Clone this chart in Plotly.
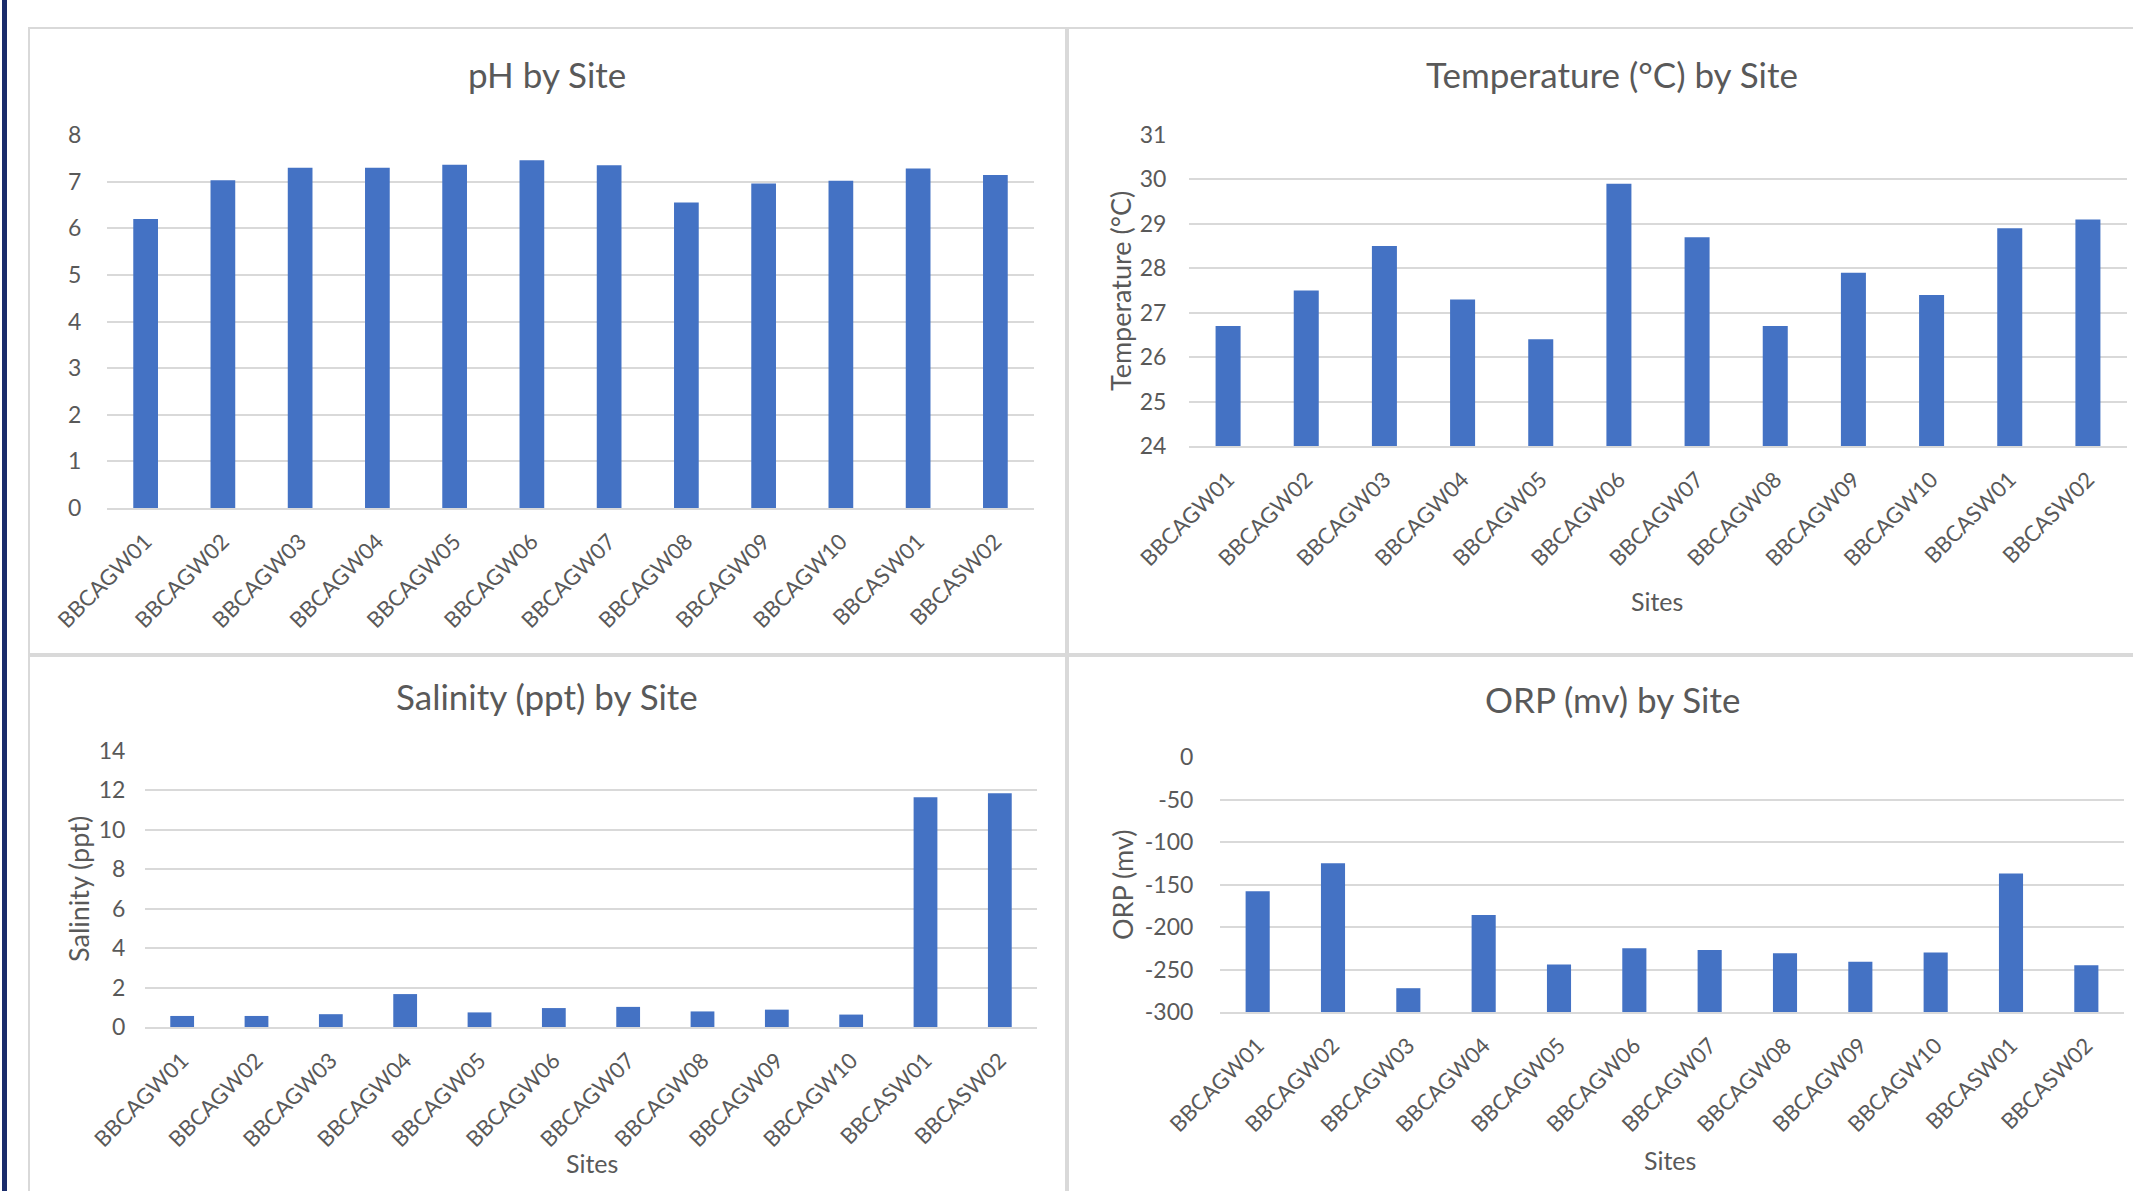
import plotly.graph_objects as go

# ---------------- data ----------------
sites = ["BBCAGW01", "BBCAGW02", "BBCAGW03", "BBCAGW04", "BBCAGW05", "BBCAGW06",
         "BBCAGW07", "BBCAGW08", "BBCAGW09", "BBCAGW10", "BBCASW01", "BBCASW02"]
ph_values = [6.2, 7.03, 7.3, 7.3, 7.36, 7.46, 7.35, 6.55, 6.96, 7.02, 7.28, 7.14]
temp_values = [26.7, 27.5, 28.5, 27.3, 26.4, 29.9, 28.7, 26.7, 27.9, 27.4, 28.9, 29.1]
salinity_values = [0.56, 0.56, 0.65, 1.67, 0.74, 0.96, 1.02, 0.79, 0.88, 0.63, 11.65, 11.86]
orp_values = [-158, -125, -272, -186, -244, -225, -227, -231, -241, -230, -137, -245]

ph_ticks = [0, 1, 2, 3, 4, 5, 6, 7, 8]
temp_ticks = [24, 25, 26, 27, 28, 29, 30, 31]
salinity_ticks = [0, 2, 4, 6, 8, 10, 12, 14]
orp_ticks = [-300, -250, -200, -150, -100, -50, 0]
orp_tick_labels = ["-300", "-250", "-200", "-150", "-100", "-50", "0"]

titles = ["pH by Site", "Temperature (°C) by Site", "Salinity (ppt) by Site", "ORP (mv) by Site"]
y_titles = [None, "Temperature (°C)", "Salinity (ppt)", "ORP (mv)"]
x_title = "Sites"

# ---------------- styling ----------------
W, H = 2133, 1191
BAR = "#4472C4"
TXT = "#595959"
GRID = "#d9d9d9"
FONT = "Lato, 'Open Sans', sans-serif"


def px(x):
    return x / W


def py(y):
    return 1 - y / H


fig = go.Figure()

panels = [
    # (values, ticks, tick labels, x-range px, y-range px (top, bottom), y label gap)
    (ph_values, ph_ticks, [str(t) for t in ph_ticks], (107, 1034), (135, 508), 20),
    (temp_values, temp_ticks, [str(t) for t in temp_ticks], (1189, 2127), (135, 446), 17),
    (salinity_values, salinity_ticks, [str(t) for t in salinity_ticks], (145, 1037), (751, 1027), 14),
    (orp_values, orp_ticks, orp_tick_labels, (1220, 2124), (757, 1012), 21),
]

for i, (vals, ticks, labels, (x0, x1), (yt, yb), gap) in enumerate(panels):
    n = "" if i == 0 else str(i + 1)
    base = ticks[0]
    heights = [v - base for v in vals]
    fig.add_trace(go.Bar(
        x=sites, y=heights, base=base, marker_color=BAR, marker_line_width=0,
        xaxis="x" + n, yaxis="y" + n, showlegend=False,
        hovertemplate="%{x}: %{customdata}<extra></extra>", customdata=vals,
    ))
    fig.layout["xaxis" + n] = dict(
        domain=[px(x0), px(x1)], anchor="y" + n, automargin=False,
        tickangle=-45, tickfont=dict(family=FONT, size=22, color=TXT),
        showline=True, linecolor=GRID, linewidth=2, showgrid=False,
        ticks="outside", ticklen=10, tickcolor="rgba(0,0,0,0)",
        fixedrange=True,
    )
    fig.layout["yaxis" + n] = dict(
        domain=[py(yb), py(yt)], anchor="x" + n, automargin=False,
        range=[ticks[0], ticks[-1]], tickvals=ticks, ticktext=labels,
        tickfont=dict(family=FONT, size=23, color=TXT),
        showgrid=True, gridcolor=GRID, gridwidth=2, zeroline=False, showline=False,
        ticks="outside", ticklen=gap, tickcolor="rgba(0,0,0,0)",
        fixedrange=True,
    )

fig.update_layout(bargap=0.68)

# panel frames
shapes = [
    dict(type="rect", xref="paper", yref="paper", x0=px(2), x1=px(7), y0=0, y1=1,
         fillcolor="#1a2c6b", line_width=0, layer="above"),
]
frames = [(29, 28, 1066, 654), (1068, 28, 2145, 654), (29, 656, 1066, 1205), (1068, 656, 2145, 1205)]
for (a, b, c, d) in frames:
    shapes.append(dict(type="rect", xref="paper", yref="paper",
                       x0=px(a), x1=px(c), y0=py(d), y1=py(b),
                       line=dict(color=GRID, width=2), fillcolor="rgba(0,0,0,0)", layer="below"))
fig.update_layout(shapes=shapes)

annotations = []
title_pos = [(547, 74), (1612, 74), (547, 696), (1612, 699)]
for t, (x, y) in zip(titles, title_pos):
    annotations.append(dict(text=t, x=px(x), y=py(y), xref="paper", yref="paper",
                            xanchor="center", yanchor="middle", showarrow=False,
                            font=dict(family=FONT, size=35, color=TXT)))
ytitle_pos = [None, (1120, 291), (78, 889), (1123, 885)]
for t, pos in zip(y_titles, ytitle_pos):
    if t is None:
        continue
    annotations.append(dict(text=t, x=px(pos[0]), y=py(pos[1]), xref="paper", yref="paper",
                            xanchor="center", yanchor="middle", showarrow=False, textangle=-90,
                            font=dict(family=FONT, size=27, color=TXT)))
for (x, y) in [(1657, 601), (592, 1163), (1670, 1160)]:
    annotations.append(dict(text=x_title, x=px(x), y=py(y), xref="paper", yref="paper",
                            xanchor="center", yanchor="middle", showarrow=False,
                            font=dict(family=FONT, size=25, color=TXT)))
fig.update_layout(annotations=annotations)

fig.update_layout(
    width=W, height=H, margin=dict(l=0, r=0, t=0, b=0, pad=0),
    paper_bgcolor="white", plot_bgcolor="white",
    font=dict(family=FONT, color=TXT),
)

fig.write_html("out.html", config={"displayModeBar": False},
               post_script="document.body.style.margin='0';document.body.style.overflow='hidden';")
